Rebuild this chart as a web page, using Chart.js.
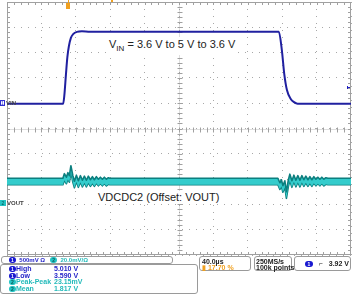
<!DOCTYPE html>
<html>
<head>
<meta charset="utf-8">
<script src="https://cdn.jsdelivr.net/npm/chart.js@4.4.0/dist/chart.umd.min.js"></script>
<style>
  body { margin:0; background:#fff; font-family:"Liberation Sans", Arial, sans-serif; }
  #wrap { position:relative; width:352px; height:294px; overflow:hidden; }
  #scope { position:absolute; left:0; top:0; }
  .t { position:absolute; white-space:nowrap; line-height:1; }
  .box { position:absolute; border:1px solid #9a9a9a; border-radius:3px; box-sizing:border-box; }
  .badge { display:inline-block; width:7px; height:6px; border-radius:3px; color:#fff; font-size:5px; line-height:6px; text-align:center; vertical-align:middle; font-weight:bold; }
  .b1 { background:#1818d0; }
  .b2 { background:#22c4c4; color:#0a5a5a; }
  .blue { color:#2424c8; }
  .cyan { color:#22baba; }
  .small { font-size:7px; font-weight:bold; }
</style>
</head>
<body>
<div id="wrap">
  <canvas id="scope" width="352" height="294"></canvas>

  <div class="t" style="left:106px;top:37px;padding:2px 3px;background:#fff;font-size:11px;color:#222">V<sub style="font-size:8px">IN</sub> = 3.6 V to 5 V to 3.6 V</div>
  <div class="t" style="left:96px;top:191px;padding:1px 2px;background:#fff;font-size:11px;color:#222">VDCDC2 (Offset: VOUT)</div>

  <div class="t" style="left:0;top:100px;width:5px;height:6px;border:1px solid #3030d0;font-size:5px;color:#3030d0;text-align:center;box-sizing:border-box">1</div>
  <div class="t small" style="left:6px;top:100px;font-size:6px;color:#444">VIN</div>
  <div class="t" style="left:0;top:200px;width:6px;height:6px;background:#22c4c4;font-size:5px;color:#055;text-align:center;line-height:6px">2</div>
  <div class="t small" style="left:7px;top:200px;font-size:6px;color:#444">VOUT</div>

  <div class="box" style="left:1px;top:256px;width:172px;height:8px"></div>
  <div class="t small" style="left:9px;top:257px;font-size:6px"><span class="badge b1">1</span> <span class="blue">&nbsp;500mV Ω</span> &nbsp;&nbsp;<span class="badge b2">2</span> <span class="cyan">&nbsp;20.0mV/Ω</span></div>

  <div class="box" style="left:0;top:264px;width:198px;height:30px"></div>
  <div class="t small" style="left:9px;top:265px"><span class="badge b1">1</span><span class="blue">High</span></div>
  <div class="t small blue" style="left:54px;top:265px">5.010 V</div>
  <div class="t small" style="left:9px;top:271.5px"><span class="badge b1">1</span><span class="blue">Low</span></div>
  <div class="t small blue" style="left:54px;top:271.5px">3.590 V</div>
  <div class="t small" style="left:9px;top:278px"><span class="badge b2">2</span><span class="cyan">Peak-Peak</span></div>
  <div class="t small cyan" style="left:54px;top:278px">23.15mV</div>
  <div class="t small" style="left:9px;top:284.5px"><span class="badge b2">2</span><span class="cyan">Mean</span></div>
  <div class="t small cyan" style="left:54px;top:284.5px">1.817 V</div>

  <div class="box" style="left:199px;top:256px;width:52px;height:15px"></div>
  <div class="t small" style="left:202px;top:257.5px;color:#222">40.0µs</div>
  <div class="t small" style="left:202px;top:264px;color:#f0a020">▮ 17.70 %</div>

  <div class="box" style="left:254px;top:256px;width:38px;height:15px"></div>
  <div class="t small" style="left:256px;top:257.5px;color:#222">250MS/s</div>
  <div class="t small" style="left:256px;top:264px;color:#222">100k points</div>

  <div class="box" style="left:294px;top:256px;width:57px;height:15px"></div>
  <div class="t small" style="left:305px;top:260px;color:#222"><span class="badge b1" style="width:8px">1</span>&nbsp;&nbsp; ⌐ &nbsp;&nbsp;3.92 V</div>
</div>

<script>
// timebase 40us/div, trigger at 17.70 % of the record
const xTicks = Array.from({length: 11}, (_, i) => -70.8 + 40 * i);

// CH1 VIN (us, V)
const vinT = [-70.8, -5.5, -4.1, -2.3, -0.6, 1.2, 3.5, 6.4, 10.5, 16.3, 25.6, 245.3, 248.8, 251.5, 254.7, 259.3, 263.0, 267.1, 329.2];
const vinV = [3.59, 3.59, 3.76, 4.16, 4.51, 4.73, 4.89, 4.97, 5.01, 5.02, 5.01, 5.01, 4.65, 4.19, 3.86, 3.68, 3.62, 3.59, 3.59];

// CH2 VOUT (us, V), centre of the trace
const voutT = [-70.8, -5.8, -4.1, -1.7, 0.0, 1.7, 3.5, 5.8, 7.6, 9.9, 12.2, 14.5, 16.9, 19.2, 21.5, 23.8, 26.2, 28.5, 30.8, 33.1, 35.5, 37.8, 40.1, 42.4, 44.8, 47.1, 48.8,
  244.2, 246.5, 248.3, 250.0, 252.3, 254.1, 256.4, 258.1, 260.5, 262.8, 265.1, 267.4, 269.8, 272.1, 274.4, 276.7, 279.1, 281.4, 283.7, 286.0, 288.4, 290.7, 293.0, 295.3, 297.7, 300.0, 302.3, 329.2];
const voutV = [1.8181, 1.8181, 1.8217, 1.8189, 1.8225, 1.8201, 1.8280, 1.8201, 1.8157, 1.8205, 1.8161, 1.8201, 1.8165, 1.8197, 1.8165, 1.8197, 1.8169, 1.8193, 1.8169, 1.8193, 1.8173, 1.8189, 1.8173, 1.8189, 1.8173, 1.8185, 1.8181,
  1.8181, 1.8145, 1.8169, 1.8122, 1.8161, 1.8074, 1.8169, 1.8213, 1.8161, 1.8205, 1.8165, 1.8201, 1.8165, 1.8201, 1.8169, 1.8197, 1.8169, 1.8193, 1.8169, 1.8193, 1.8173, 1.8189, 1.8173, 1.8189, 1.8173, 1.8185, 1.8181, 1.8181];
const voutNoise = 0.0026; // half width of the noise band, V

// vertical settings, graticule in divisions
const ch1 = v => 1 + (v - 3.6) / 0.5;   // 500 mV/div, 3.6 V at +1 div
const ch2 = v => -3 + (v - 1.8) / 0.02; // 20 mV/div, 1.8 V at -3 div

const vinPts = vinT.map((t, i) => ({x: t, y: ch1(vinV[i])}));
const voutPts = voutT.map((t, i) => ({x: t, y: ch2(voutV[i])}));
const voutHi = voutT.map((t, i) => ({x: t, y: ch2(voutV[i] + voutNoise)}));
const voutLo = voutT.map((t, i) => ({x: t, y: ch2(voutV[i] - voutNoise)}));

const scopeFrame = {
  id: 'scopeFrame',
  beforeDatasetsDraw(chart) {
    const {ctx, chartArea: a, scales: {x, y}} = chart;
    const dx = (x.getPixelForValue(xTicks[1]) - x.getPixelForValue(xTicks[0])) / 5;
    const dy = (y.getPixelForValue(0) - y.getPixelForValue(1)) / 5;
    const cx = Math.round(x.getPixelForValue(xTicks[5])) + .5;
    const cy = Math.round(y.getPixelForValue(0)) + .5;
    ctx.save();
    ctx.strokeStyle = '#a0a0a0';
    ctx.lineWidth = 1;
    ctx.strokeRect(a.left + .5, a.top + .5, a.width - 1, a.height - 1);
    ctx.beginPath();
    ctx.moveTo(a.left, cy); ctx.lineTo(a.right, cy);
    ctx.moveTo(cx, a.top); ctx.lineTo(cx, a.bottom);
    ctx.globalAlpha = 0.35;
    ctx.stroke();
    ctx.globalAlpha = 1;
    ctx.beginPath();
    for (let i = 1; i < 50; i++) {
      const px = Math.round(a.left + i * dx) + .5;
      ctx.moveTo(px, cy - 2); ctx.lineTo(px, cy + 3);
      ctx.moveTo(px, a.top); ctx.lineTo(px, a.top + 3);
      ctx.moveTo(px, a.bottom); ctx.lineTo(px, a.bottom - 3);
      const py = Math.round(a.top + i * dy) + .5;
      if (py < a.bottom) {
        ctx.moveTo(cx - 2, py); ctx.lineTo(cx + 3, py);
        ctx.moveTo(a.left, py); ctx.lineTo(a.left + 3, py);
        ctx.moveTo(a.right, py); ctx.lineTo(a.right - 3, py);
      }
    }
    ctx.stroke();
    // trigger position marker
    const tx = Math.round(x.getPixelForValue(0));
    ctx.fillStyle = '#f0a020';
    ctx.fillRect(tx - 2, 3, 4, 6);
    ctx.fillRect(tx, 0, 1, 3);
    ctx.fillRect(Math.round(x.getPixelForValue(50)), 0, 2, 2);
    // trigger level marker on the right
    const ty = Math.round(y.getPixelForValue(ch1(3.92)));
    ctx.fillStyle = '#2020c0';
    ctx.fillRect(a.right - 4, ty, 3, 1);
    ctx.fillRect(a.right - 4, ty - 1, 1, 3);
    ctx.restore();
  }
};

const band = {pointRadius: 0, tension: 0, borderJoinStyle: 'round', borderCapStyle: 'round'};

new Chart(document.getElementById('scope'), {
  type: 'line',
  data: {
    datasets: [
      {...band, data: voutHi, borderColor: '#0c7f7f', borderWidth: 1.6, fill: '+1', backgroundColor: '#34cccc'},
      {...band, data: voutLo, borderColor: '#0c7f7f', borderWidth: 1.6},
      {...band, data: voutPts, borderColor: '#1a9c9c', borderWidth: 0.8},
      {data: vinPts, borderColor: '#2020a0', borderWidth: 2, pointRadius: 0, cubicInterpolationMode: 'monotone', borderJoinStyle: 'round'}
    ]
  },
  options: {
    responsive: false, animation: false, devicePixelRatio: 1,
    layout: {padding: {left: 7, top: 2, right: 1, bottom: 39}},
    plugins: {legend: {display: false}, tooltip: {enabled: false}, filler: {propagate: false}},
    scales: {
      x: {
        type: 'linear', min: -70.8, max: 329.2,
        afterBuildTicks: s => { s.ticks = xTicks.map(v => ({value: v})); },
        ticks: {display: false},
        grid: {color: '#a8a8a8', lineWidth: 1, drawTicks: false},
        border: {display: false, dash: [1, 6]}
      },
      y: {
        min: -5, max: 5,
        ticks: {display: false, stepSize: 1},
        grid: {color: '#a8a8a8', lineWidth: 1, drawTicks: false},
        border: {display: false, dash: [1, 6]}
      }
    }
  },
  plugins: [scopeFrame]
});
</script>
</body>
</html>
